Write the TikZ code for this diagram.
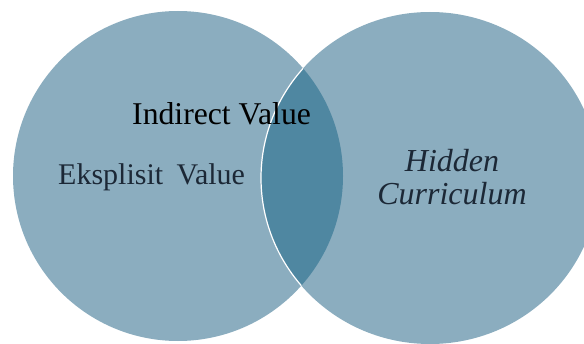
\documentclass[tikz,border=0pt]{standalone}
\usepackage{fontspec}
\setmainfont{Liberation Serif}
\definecolor{setblue}{RGB}{139,173,191}
\definecolor{lensblue}{RGB}{79,135,161}
\definecolor{labelink}{RGB}{28,40,54}
\tikzset{
  setfill/.style={fill=setblue},
  lensfill/.style={fill=lensblue},
  rim/.style={draw=white, line width=1.2pt},
  biglabel/.style={inner sep=0pt, anchor=base west},
}

\begin{document}
\begin{tikzpicture}[x=1pt,y=1pt]
    \useasboundingbox (0,0) rectangle (584,343);
    \coordinate (L) at (178,167);
    \coordinate (R) at (430,165);
    \begin{scope}
      \clip (0,0) rectangle (584,343);
      \fill[setfill] (L) circle (165pt);
      \fill[setfill] (R) ellipse (169pt and 166pt);
      % overlap of the two sets
      \begin{scope}
        \clip (L) circle (165pt);
        \fill[lensfill] (R) ellipse (169pt and 166pt);
        \draw[rim] (R) ellipse (169pt and 166pt);
      \end{scope}
    \end{scope}
    \node[biglabel, font=\fontsize{31.7}{36}\selectfont] (indirect) at (132,218) {Indirect Value};
    \node[biglabel, text=labelink, font=\fontsize{30}{34}\selectfont] (eksplisit) at (58,158) {Eksplisit\hspace{.45em}Value};
    \node[biglabel, anchor=base, text=labelink, font=\fontsize{32}{36}\selectfont\itshape] (hidden) at (452,171) {Hidden};
    \node[biglabel, anchor=base, text=labelink, font=\fontsize{32}{36}\selectfont\itshape] (curriculum) at (452,138) {Curriculum};
  \end{tikzpicture}
\end{document}
